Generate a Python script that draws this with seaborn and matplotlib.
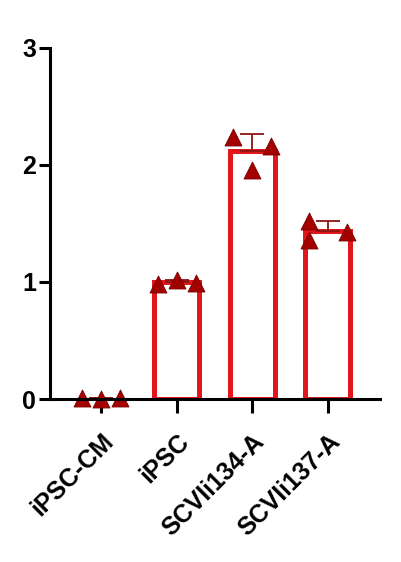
import pandas as pd
import seaborn as sns
import matplotlib.pyplot as plt

# relative values, three replicates per group
categories = ["iPSC-CM", "iPSC", "SCVIi134-A", "SCVIi137-A"]
ipsc_cm = [0.005, 0.004, 0.006]
ipsc = [0.98, 1.02, 0.99]
scvii134 = [2.24, 1.96, 2.16]
scvii137 = [1.52, 1.36, 1.43]
y_ticks = [0, 1, 2, 3]

# horizontal spread of the replicate points inside each bar
spread = {
    "iPSC-CM": [-0.25, 0.0, 0.25],
    "iPSC": [-0.25, 0.0, 0.25],
    "SCVIi134-A": [-0.25, 0.0, 0.25],
    "SCVIi137-A": [-0.25, -0.25, 0.25],
}

BAR_RED = "#e3161b"
DOT_RED = "#a30000"


def main() -> None:
    values = [ipsc_cm, ipsc, scvii134, scvii137]
    df = pd.DataFrame(
        [(c, v, spread[c][i]) for c, vals in zip(categories, values) for i, v in enumerate(vals)],
        columns=["group", "value", "offset"],
    )
    df["group"] = pd.Categorical(df["group"], categories=categories)
    df["x"] = df["group"].cat.codes + df["offset"]

    sns.set_style("ticks")
    plt.rcParams["font.family"] = ["Liberation Sans", "DejaVu Sans"]
    plt.rcParams["font.weight"] = "bold"

    fig = plt.figure(figsize=(4.02, 5.62), dpi=100)
    ax = fig.add_axes([0.124, 0.29, 0.821, 0.625])

    sns.barplot(
        data=df, x="group", y="value", order=categories,
        estimator="mean", errorbar=None, width=0.6,
        facecolor="white", edgecolor=BAR_RED, linewidth=3.6, ax=ax,
    )
    # a bar that is flat on the axis disappears under it in the original
    for bar in ax.patches:
        if bar.get_height() < 0.05:
            bar.set_linewidth(0)

    stats = df.groupby("group", observed=False)["value"].agg(["mean", "std"])
    ax.errorbar(
        range(len(categories)), stats["mean"],
        yerr=[[0] * len(categories), stats["std"]],
        fmt="none", ecolor="#8b1515", elinewidth=1.3, capsize=8.5, capthick=1.3, zorder=3,
    )

    sns.scatterplot(
        data=df, x="x", y="value", marker="^", s=150,
        color=DOT_RED, edgecolor="#7a0000", linewidth=0.6, zorder=4, ax=ax,
        clip_on=False,
    )

    ax.set_xlim(-0.68, 3.69)
    ax.set_ylim(0, 3)
    ax.set_yticks(y_ticks)
    ax.set_xticks(range(len(categories)))
    ax.set_xticklabels(categories, rotation=45, ha="right", rotation_mode="anchor")
    ax.set_xlabel("")
    ax.set_ylabel("")
    ax.tick_params(axis="y", labelsize=18, width=2.2, length=8, pad=2,
                   color="black", labelcolor="black")
    ax.tick_params(axis="x", labelsize=18, width=2.2, length=10, pad=12,
                   color="black", labelcolor="black")
    for side in ["left", "bottom"]:
        ax.spines[side].set_linewidth(2.2)
        ax.spines[side].set_color("black")
        ax.spines[side].set_zorder(5)
    sns.despine(ax=ax)

    fig.savefig("out.png", dpi=100)


if __name__ == "__main__":
    main()
